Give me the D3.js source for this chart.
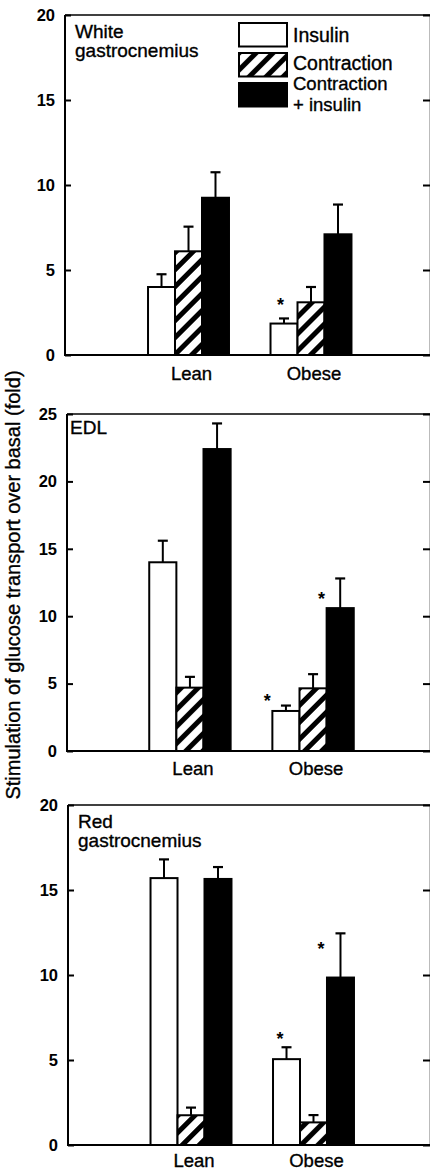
<!DOCTYPE html>
<html>
<head>
<meta charset="utf-8">
<script src="https://cdnjs.cloudflare.com/ajax/libs/d3/7.8.5/d3.min.js"></script>
<style>
html,body{margin:0;padding:0;background:#fff;}
svg{display:block;}
text{font-family:"Liberation Sans",Arial,Helvetica,sans-serif;fill:#000;}
</style>
</head>
<body>
<svg id="chart" width="430" height="1171"></svg>
<script>
// ---------- data ----------
const categories = ["Lean", "Obese"];
const seriesNames = ["Insulin", "Contraction", "Contraction + insulin"];
const yAxisLabel = "Stimulation of glucose transport over basal (fold)";

// White gastrocnemius
const whiteTicks = [0, 5, 10, 15, 20];
const whiteInsulin = [4.0, 1.85];
const whiteInsulinErr = [0.75, 0.3];
const whiteContraction = [6.1, 3.1];
const whiteContractionErr = [1.45, 0.9];
const whiteBoth = [9.25, 7.1];
const whiteBothErr = [1.5, 1.75];
const whiteSig = [{cat: "Obese", series: "Insulin", level: 3.2}];

// EDL
const edlTicks = [0, 5, 10, 15, 20, 25];
const edlInsulin = [14.0, 2.97];
const edlInsulinErr = [1.6, 0.4];
const edlContraction = [4.7, 4.65];
const edlContractionErr = [0.8, 1.05];
const edlBoth = [22.4, 10.6];
const edlBothErr = [1.9, 2.2];
const edlSig = [{cat: "Obese", series: "Insulin", level: 4.0},
                {cat: "Obese", series: "Contraction + insulin", level: 11.6}];

// Red gastrocnemius
const redTicks = [0, 5, 10, 15, 20];
const redInsulin = [15.7, 5.05];
const redInsulinErr = [1.1, 0.7];
const redContraction = [1.75, 1.33];
const redContractionErr = [0.45, 0.43];
const redBoth = [15.65, 9.85];
const redBothErr = [0.7, 2.6];
const redSig = [{cat: "Obese", series: "Insulin", level: 6.5},
                {cat: "Obese", series: "Contraction + insulin", level: 11.75}];

// ---------- build ----------
function buildRows(ins, insE, con, conE, both, bothE) {
  const rows = [];
  categories.forEach((c, i) => {
    rows.push({cat: c, series: seriesNames[0], v: ins[i], e: insE[i]});
    rows.push({cat: c, series: seriesNames[1], v: con[i], e: conE[i]});
    rows.push({cat: c, series: seriesNames[2], v: both[i], e: bothE[i]});
  });
  return rows;
}

const panels = [
  {title: ["White", "gastrocnemius"], titleX: 75, titleY: 38,
   ticks: whiteTicks, rows: buildRows(whiteInsulin, whiteInsulinErr, whiteContraction, whiteContractionErr, whiteBoth, whiteBothErr),
   sig: whiteSig, sigDx: [10], top: 15, bottom: 355, axisX: 65, xRange: [106.5, 393], legend: true, catDy: 25},
  {title: ["EDL"], titleX: 70, titleY: 433.5,
   ticks: edlTicks, rows: buildRows(edlInsulin, edlInsulinErr, edlContraction, edlContractionErr, edlBoth, edlBothErr),
   sig: edlSig, sigDx: [-5, -5], top: 414, bottom: 751, axisX: 67, xRange: [107.5, 395.5], legend: false, catDy: 24},
  {title: ["Red", "gastrocnemius"], titleX: 78, titleY: 828,
   ticks: redTicks, rows: buildRows(redInsulin, redInsulinErr, redContraction, redContractionErr, redBoth, redBothErr),
   sig: redSig, sigDx: [7, -6], top: 805, bottom: 1145, axisX: 68, xRange: [109, 395.5], legend: false, catDy: 22}
];

const svg = d3.select("#chart");
const defs = svg.append("defs");
const pat = defs.append("pattern").attr("id", "hatch")
  .attr("patternUnits", "userSpaceOnUse").attr("width", 12).attr("height", 12)
  .attr("patternTransform", "rotate(45)");
pat.append("rect").attr("width", 12).attr("height", 12).attr("fill", "#fff");
pat.append("rect").attr("x", 0).attr("y", 0).attr("width", 5).attr("height", 12).attr("fill", "#000");

const fillFor = d3.scaleOrdinal().domain(seriesNames).range(["#fff", "url(#hatch)", "#000"]);
const RIGHT = 430;

panels.forEach(p => {
  const g = svg.append("g");
  const yMax = p.ticks[p.ticks.length - 1];
  const y = d3.scaleLinear().domain([0, yMax]).range([p.bottom, p.top]);
  const x = d3.scaleBand().domain(categories).range(p.xRange).paddingInner(0.339).paddingOuter(0.339);
  const xs = d3.scaleBand().domain(seriesNames).range([0, x.bandwidth()]).padding(0);

  // frame: top border and faint right border
  g.append("line").attr("x1", p.axisX).attr("x2", RIGHT).attr("y1", p.top).attr("y2", p.top)
    .attr("stroke", "#000").attr("stroke-width", 1.6);
  g.append("line").attr("x1", RIGHT - 0.5).attr("x2", RIGHT - 0.5).attr("y1", p.top).attr("y2", p.bottom)
    .attr("stroke", "#bbb").attr("stroke-width", 1);

  // right ticks
  const ra = g.append("g").attr("transform", `translate(${RIGHT},0)`)
    .call(d3.axisRight(y).tickValues(p.ticks).tickSizeInner(-7).tickSizeOuter(0).tickFormat(""));
  ra.select(".domain").remove();
  ra.selectAll(".tick line").attr("stroke", "#000").attr("stroke-width", 2);

  // bars
  g.selectAll("rect.bar").data(p.rows).join("rect").attr("class", "bar")
    .attr("x", d => x(d.cat) + xs(d.series))
    .attr("y", d => y(d.v))
    .attr("width", xs.bandwidth())
    .attr("height", d => y(0) - y(d.v))
    .attr("fill", d => fillFor(d.series))
    .attr("stroke", "#000").attr("stroke-width", 2);

  // error bars (upper only)
  const eb = g.selectAll("g.err").data(p.rows).join("g").attr("class", "err")
    .attr("transform", d => `translate(${x(d.cat) + xs(d.series) + xs.bandwidth() / 2},0)`);
  eb.append("line").attr("x1", 0).attr("x2", 0)
    .attr("y1", d => y(d.v)).attr("y2", d => y(d.v + d.e))
    .attr("stroke", "#000").attr("stroke-width", 2);
  eb.append("line").attr("x1", -5).attr("x2", 5)
    .attr("y1", d => y(d.v + d.e)).attr("y2", d => y(d.v + d.e))
    .attr("stroke", "#000").attr("stroke-width", 2.2);

  // asterisks
  g.selectAll("text.sig").data(p.sig).join("text").attr("class", "sig")
    .attr("x", (d, i) => x(d.cat) + xs(d.series) + p.sigDx[i])
    .attr("y", d => y(d.level) + 10)
    .attr("text-anchor", "middle")
    .attr("font-size", 18).attr("font-weight", "bold")
    .text("*");

  // left axis
  const la = g.append("g").attr("transform", `translate(${p.axisX},0)`)
    .call(d3.axisLeft(y).tickValues(p.ticks).tickSizeInner(-6).tickSizeOuter(0).tickPadding(10).tickFormat(d3.format("d")));
  la.select(".domain").attr("stroke", "#000").attr("stroke-width", 2)
    .attr("d", `M0,${p.top}V${p.bottom}`);
  la.selectAll(".tick line").attr("stroke", "#000").attr("stroke-width", 2);
  la.selectAll(".tick text").attr("font-size", 16.5).attr("font-weight", "bold")
    .attr("font-family", '"Liberation Sans",Arial,sans-serif').attr("fill", "#000");

  // baseline
  g.append("line").attr("x1", p.axisX - 1).attr("x2", RIGHT).attr("y1", p.bottom).attr("y2", p.bottom)
    .attr("stroke", "#000").attr("stroke-width", 2);

  // category labels
  g.selectAll("text.cat").data(categories).join("text").attr("class", "cat")
    .attr("x", d => x(d) + x.bandwidth() / 2 + 3)
    .attr("y", p.bottom + p.catDy)
    .attr("text-anchor", "middle")
    .attr("font-size", 18.5)
    .attr("stroke", "#000").attr("stroke-width", 0.35)
    .text(d => d);

  // title
  const t = g.append("text").attr("x", p.titleX).attr("y", p.titleY)
    .attr("font-size", 19).attr("stroke", "#000").attr("stroke-width", 0.35);
  p.title.forEach((line, i) => {
    t.append("tspan").attr("x", p.titleX).attr("dy", i === 0 ? 0 : 19).text(line);
  });

  // legend
  if (p.legend) {
    const lg = g.append("g");
    const boxY = [23, 53, 83];
    seriesNames.forEach((s, i) => {
      lg.append("rect").attr("x", 239).attr("y", boxY[i]).attr("width", 48).attr("height", 23.5)
        .attr("fill", fillFor(s)).attr("stroke", "#000").attr("stroke-width", 2);
    });
    const lt = (txt, yy, fs) => lg.append("text").attr("x", 293).attr("y", yy)
      .attr("font-size", fs).attr("stroke", "#000").attr("stroke-width", 0.35).text(txt);
    lt("Insulin", 41.5, 19.5);
    lt("Contraction", 70, 19.5);
    lt("Contraction", 90, 18.5);
    lt("+ insulin", 110.5, 18.5);
  }
});

// shared y-axis label
svg.append("text")
  .attr("transform", "translate(20,585) rotate(-90)")
  .attr("text-anchor", "middle")
  .attr("font-size", 20)
  .attr("stroke", "#000").attr("stroke-width", 0.35)
  .text(yAxisLabel);
</script>
</body>
</html>
